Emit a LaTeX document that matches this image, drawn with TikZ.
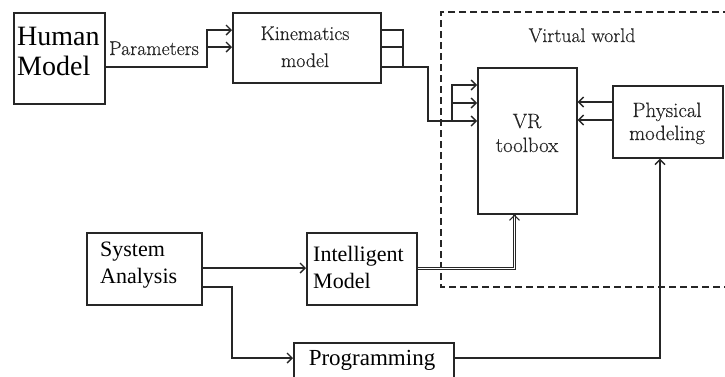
\documentclass[tikz,border=0pt]{standalone}
\usepackage{fontspec}
\newfontfamily\timesf{Liberation Serif}
\newfontfamily\oldf{Latin Modern Roman}[FakeBold=0.35]
\usetikzlibrary{arrows.meta,calc}
\definecolor{ink}{HTML}{262626}
\begin{document}
\begin{tikzpicture}[x=1pt,y=-1pt,
  box/.style={draw=ink,line width=1.6pt,inner sep=0pt,anchor=north west},
  tlbl/.style={inner sep=0pt,font=\timesf\fontsize{22}{26.5}\selectfont,align=left,text=black},
  olbl/.style={inner sep=0pt,font=\oldf\fontsize{19.8}{27}\selectfont,align=center,text=ink},
  wire/.style={draw=ink,line width=1.4pt},
  arr/.style={wire,-{Straight Barb[length=5pt,width=10pt]}},
  dline/.style={draw=ink,line width=1pt,double=white,double distance=1.6pt},
  vwframe/.style={draw=ink,line width=1.4pt,dash pattern=on 7pt off 4pt}
]
\clip (0,0) rectangle (725,376);
\fill[white] (0,0) rectangle (725,376);

% boxes
\node[box,minimum width=91pt,minimum height=91pt] (human) at (13,12) {};
\node[box,minimum width=148pt,minimum height=70pt] (kin) at (232,12) {};
\node[box,minimum width=99pt,minimum height=146pt] (vr) at (477,67) {};
\node[box,minimum width=110pt,minimum height=72pt] (phys) at (612,85) {};
\node[box,minimum width=115pt,minimum height=72pt] (sys) at (86,232) {};
\node[box,minimum width=110pt,minimum height=72pt] (intel) at (306,232) {};
\node[box,minimum width=160pt,minimum height=60pt] (prog) at (293,342) {};

% labels (anchor base = baseline of last line)
\node[tlbl,font=\timesf\fontsize{28}{30}\selectfont,anchor=base west] (humanT) at (17,75) {Human\\Model};
\node[olbl,anchor=base west] (paramT) at (109,55) {Parameters};
\node[olbl,anchor=base] (kinT) at (305,67) {Kinematics\\model};
\node[olbl,anchor=base] (vwT) at (582,42) {Virtual world};
\node[olbl,font=\oldf\fontsize{20.8}{24}\selectfont,anchor=base] (vrT) at (527,152) {VR\\toolbox};
\node[olbl,font=\oldf\fontsize{20.8}{23}\selectfont,anchor=base] (physT) at (667,140) {Physical\\modeling};
\node[tlbl,anchor=base west] (sysT) at (100,283) {System\\Analysis};
\node[tlbl,anchor=base west] (intelT) at (313,288) {Intelligent\\Model};
\node[tlbl,font=\timesf\fontsize{23}{27}\selectfont,anchor=base] (progT) at (372,365) {Programming};

% virtual world frame
\coordinate (vwA) at (730,12);
\coordinate (vwB) at (441,12);
\coordinate (vwC) at (441,287);
\coordinate (vwD) at (730,287);
\draw[vwframe] (vwA) -- (vwB) -- (vwC) -- (vwD);

% human -> kinematics
\coordinate (hk) at (207,67);
\draw[arr] (human.east |- hk) -- (hk) -- (hk |- 0,30) -- (kin.west |- 0,30);
\draw[arr] (hk |- 0,47) -- (kin.west |- 0,47);

% kinematics -> VR
\coordinate (kv) at (403,67);
\draw[wire] (kin.east |- 0,30) -- (kv |- 0,30) -- (kv);
\draw[wire] (kin.east |- 0,47) -- (kv |- 0,47);
\draw[arr] (kin.east |- kv) -- (kv) -- (428,67) -- (428,121) -- (vr.west |- 0,121);
\draw[arr] (452,121) -- (452,85) -- (vr.west |- 0,85);
\draw[arr] (452,103) -- (vr.west |- 0,103);

% physical -> VR
\draw[arr] (phys.west |- 0,102) -- (vr.east |- 0,102);
\draw[arr] (phys.west |- 0,120) -- (vr.east |- 0,120);

% intelligent -> VR (double line)
\coordinate (iv) at (514.5,268.5);
\draw[dline] (intel.east |- iv) -- (iv) -- (iv |- 0,214.5);
\draw[arr,line width=1pt] (iv |- 0,215) -- (iv |- vr.south);

% system analysis -> intelligent, programming
\draw[arr] (sys.east |- 0,268) -- (intel.west |- 0,268);
\coordinate (sp) at (232,287);
\draw[arr] (sys.east |- sp) -- (sp) -- (sp |- 0,358) -- (prog.west |- 0,358);

% programming -> physical
\coordinate (pp) at (660,358);
\draw[arr] (prog.east |- pp) -- (pp) -- (pp |- phys.south);
\end{tikzpicture}
\end{document}
